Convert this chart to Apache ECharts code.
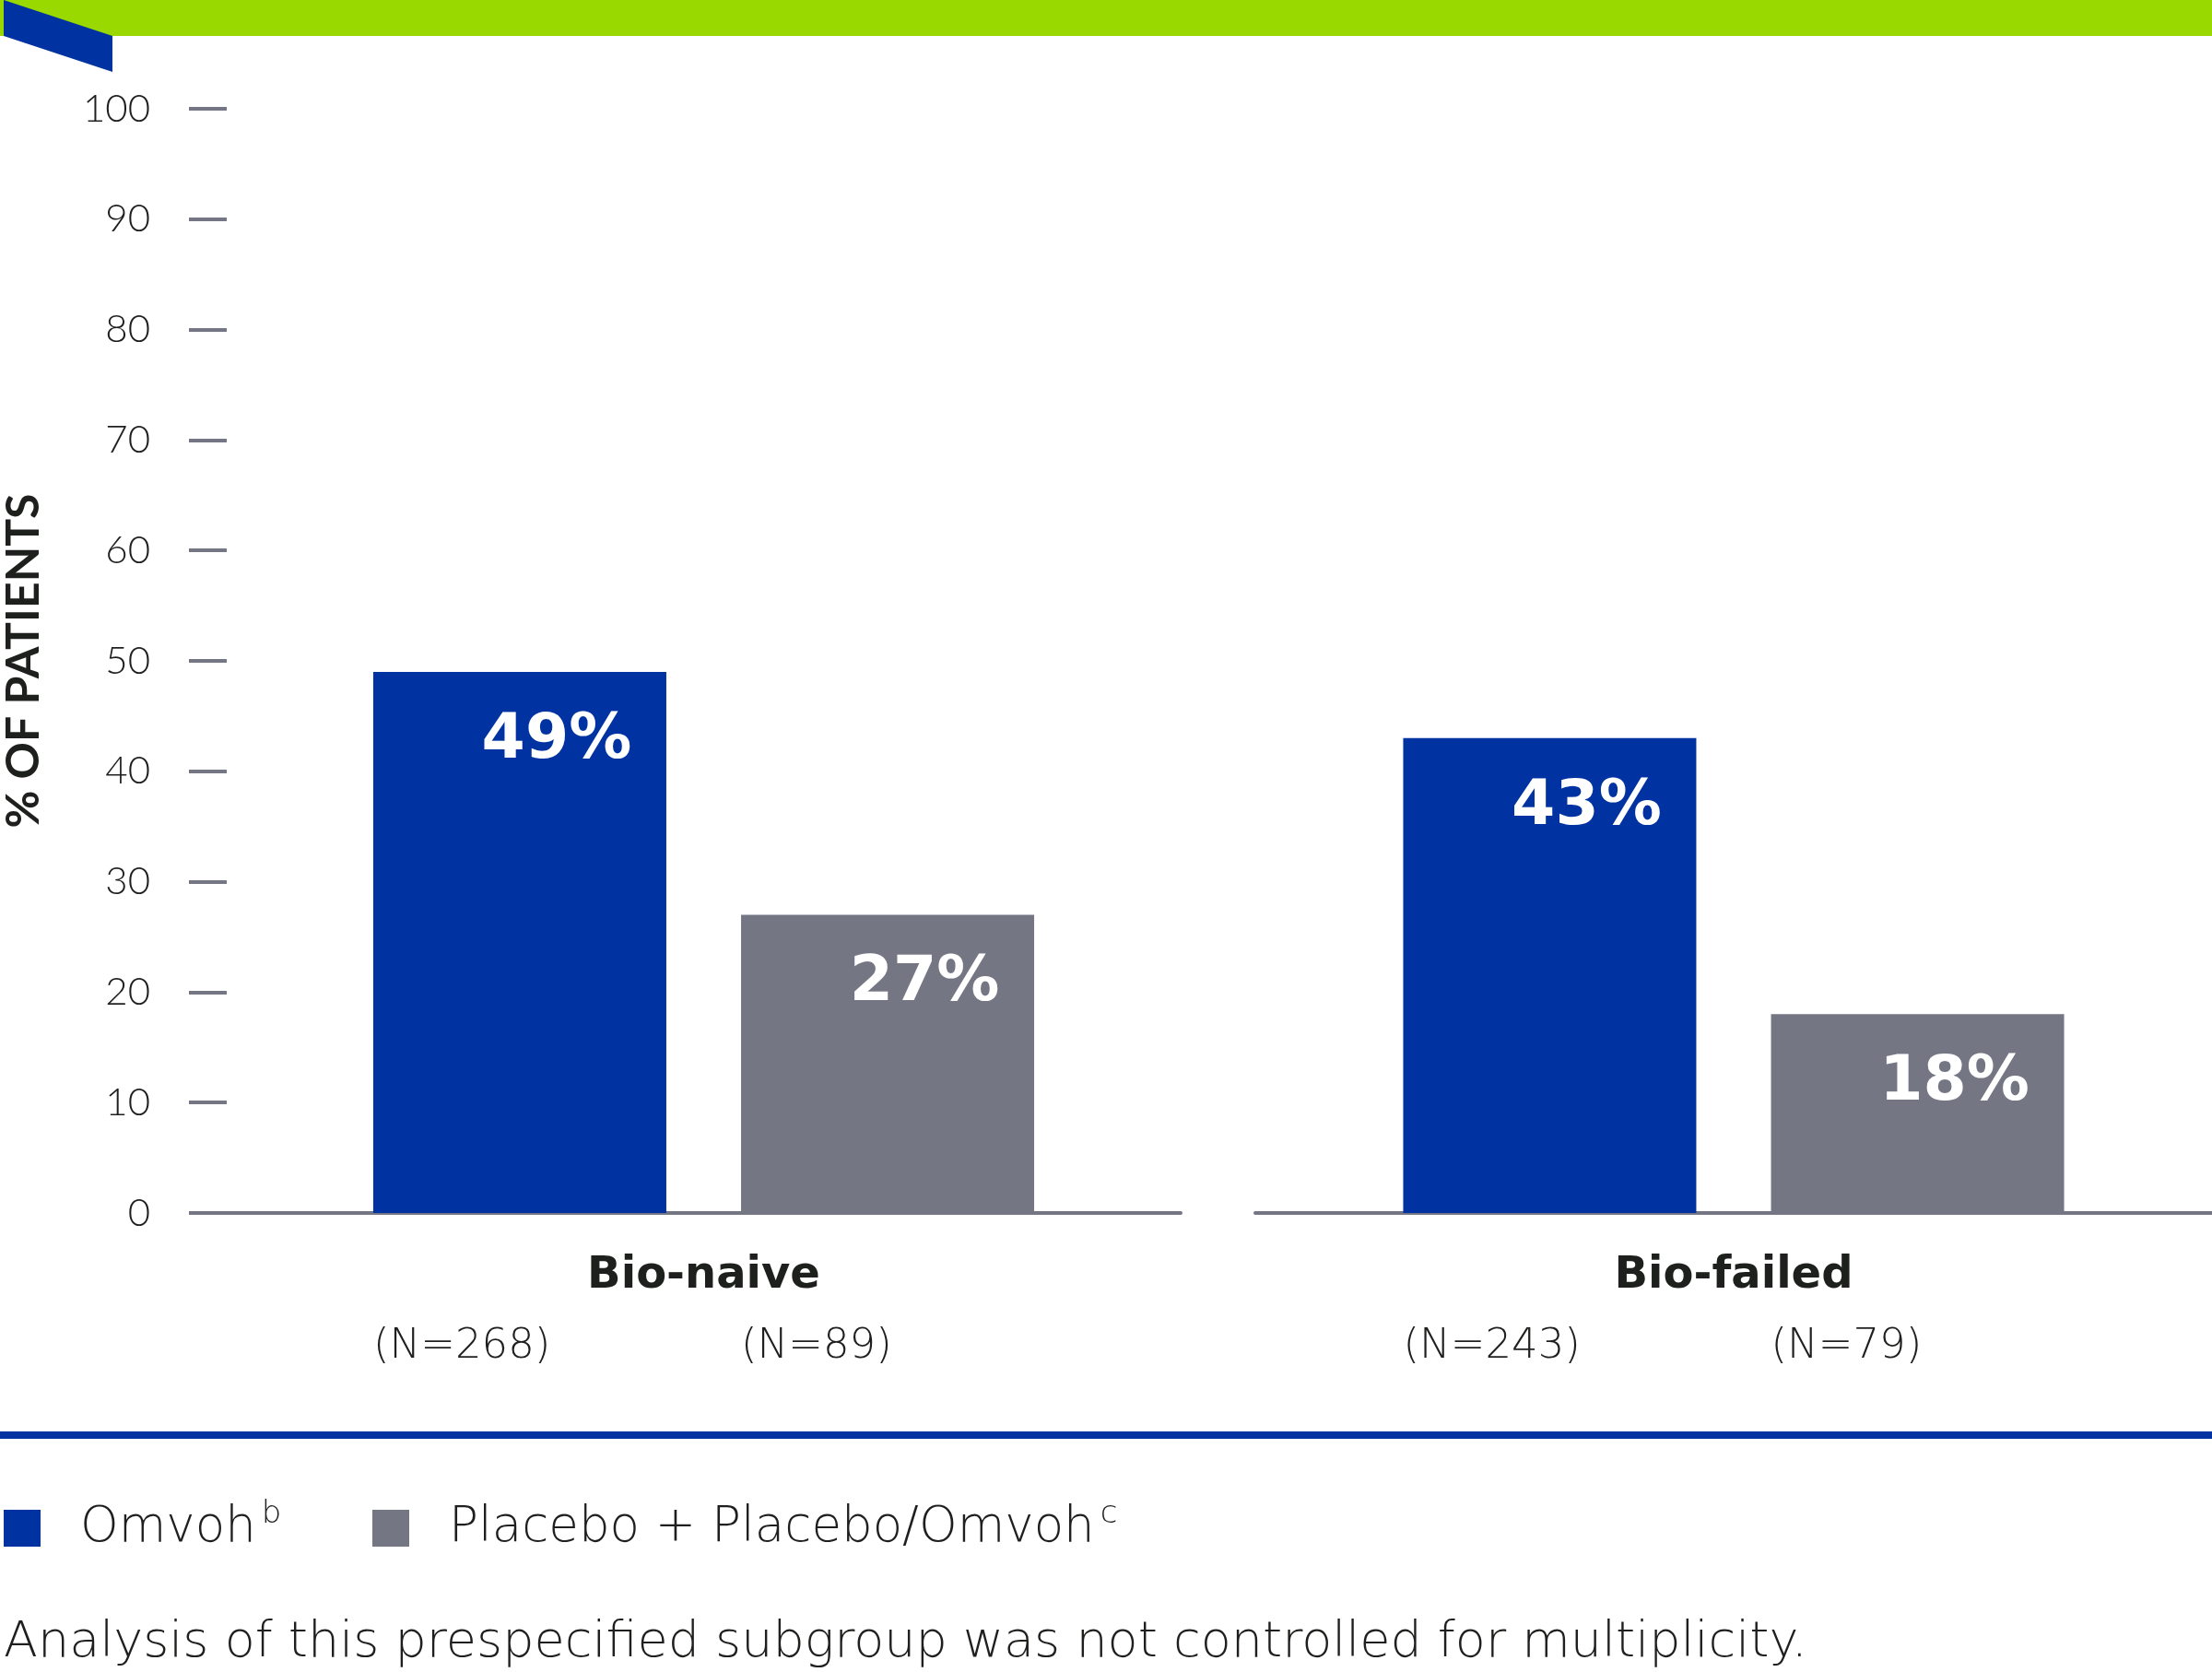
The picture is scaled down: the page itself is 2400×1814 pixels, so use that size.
<!DOCTYPE html>
<html>
<head>
<meta charset="utf-8">
<script src="https://cdn.jsdelivr.net/npm/echarts/dist/echarts.min.js"></script>
<style>
    html, body { margin: 0; padding: 0; background: #fff; }
    #chart { width: 2400px; height: 1814px; }
</style>
</head>
<body>
<div id="chart"></div>
<script>
var categories = ['Bio-naive', 'Bio-failed'];
var omvohValues = [49, 43];
var placeboValues = [27, 18];
var omvohN = [268, 243];
var placeboN = [89, 79];
var seriesNames = ['Omvoh', 'Placebo + Placebo/Omvoh'];
var seriesMarks = ['b', 'c'];
var yAxisName = '% OF PATIENTS';
var footnote = 'Analysis of this prespecified subgroup was not controlled for multiplicity.';

var BLUE = '#0033a1';
var GRAY = '#757683';
var GREEN = '#99d900';
var TEXT = '#1e201d';
var LIGHT = 'DejaVu Sans';

var dom = document.getElementById('chart');
var myChart = echarts.init(dom);

// one grid per subgroup, the x axis line is split between them
var grids = [
    { left: 245, top: 118, width: 1036, height: 1198 },
    { left: 1362, top: 118, width: 1038, height: 1198 }
];

function xAxisFor(i) {
    return {
        type: 'category',
        gridIndex: i,
        data: [categories[i]],
        axisLine: { show: true, lineStyle: { color: GRAY, width: 4 } },
        axisTick: { show: false },
        axisLabel: {
            interval: 0,
            margin: 34,
            formatter: function () {
                return '{cat|' + categories[i] + '}\n{n1|(N=' + omvohN[i] + ')}{n2|(N=' + placeboN[i] + ')}';
            },
            rich: {
                cat: { fontFamily: 'DejaVu Sans', fontWeight: 'bold', fontSize: 48, color: TEXT, lineHeight: 70 },
                n1: { fontFamily: LIGHT, fontWeight: 200, fontSize: 45, color: TEXT, lineHeight: 82, width: 399, align: 'left' },
                n2: { fontFamily: LIGHT, fontWeight: 200, fontSize: 45, color: TEXT, lineHeight: 82, width: 318, align: 'left' }
            }
        }
    };
}

function yAxisFor(i) {
    return {
        type: 'value',
        gridIndex: i,
        min: 0,
        max: 100,
        interval: 10,
        show: i === 0,
        name: i === 0 ? yAxisName : '',
        nameLocation: 'middle',
        nameGap: 195,
        nameTextStyle: { fontFamily: 'Lato', fontWeight: 'bold', fontSize: 50, color: TEXT },
        axisLine: { show: false },
        axisTick: { show: true, length: 41, lineStyle: { color: GRAY, width: 4 } },
        splitLine: { show: false },
        axisLabel: { margin: 83, fontFamily: 'Lato', fontWeight: 300, fontSize: 42, color: TEXT }
    };
}

function barLabel() {
    return {
        show: true,
        position: ['50%', 75],
        align: 'center',
        verticalAlign: 'middle',
        offset: [40, 0],
        formatter: '{c}%',
        fontFamily: 'DejaVu Sans',
        fontWeight: 'bold',
        fontSize: 68,
        color: '#fff'
    };
}

var series = [];
for (var i = 0; i < categories.length; i++) {
    series.push({
        name: seriesNames[0],
        type: 'bar',
        xAxisIndex: i,
        yAxisIndex: i,
        data: [omvohValues[i]],
        barWidth: 318,
        barGap: '25.5%',
        itemStyle: { color: BLUE },
        label: barLabel()
    });
    series.push({
        name: seriesNames[1],
        type: 'bar',
        xAxisIndex: i,
        yAxisIndex: i,
        data: [placeboValues[i]],
        barWidth: 318,
        barGap: '25.5%',
        itemStyle: { color: GRAY },
        label: barLabel()
    });
}

function legendFor(k, left) {
    return {
        data: [seriesNames[k]],
        left: left,
        top: 1626,
        padding: 0,
        icon: 'rect',
        itemWidth: 40,
        itemHeight: 40,
        selectedMode: false,
        formatter: function (name) {
            return '{name|' + name + '}{sup|' + seriesMarks[k] + '}';
        },
        textStyle: {
            rich: {
                name: { fontFamily: LIGHT, fontWeight: 200, fontSize: 53, color: TEXT, lineHeight: 60, padding: [0, 0, 0, 38] },
                sup: { fontFamily: LIGHT, fontWeight: 200, fontSize: 34, color: TEXT, lineHeight: 40, padding: [0, 0, 30, 6] }
            }
        }
    };
}

option = {
    backgroundColor: '#fff',
    animation: false,
    title: {
        text: footnote,
        left: 4,
        top: 1756,
        padding: 0,
        textStyle: { fontFamily: LIGHT, fontWeight: 200, fontSize: 54, color: TEXT }
    },
    legend: [legendFor(0, 4), legendFor(1, 404)],
    grid: grids,
    xAxis: [xAxisFor(0), xAxisFor(1)],
    yAxis: [yAxisFor(0), yAxisFor(1)],
    series: series,
    graphic: [
        { type: 'rect', shape: { x: 0, y: 0, width: 2400, height: 39 }, style: { fill: GREEN } },
        { type: 'polygon', shape: { points: [[4, 0], [122, 39], [122, 78], [4, 39]] }, style: { fill: BLUE } },
        { type: 'rect', shape: { x: 0, y: 1553, width: 2400, height: 8 }, style: { fill: BLUE } }
    ]
};

myChart.setOption(option);
</script>
</body>
</html>
